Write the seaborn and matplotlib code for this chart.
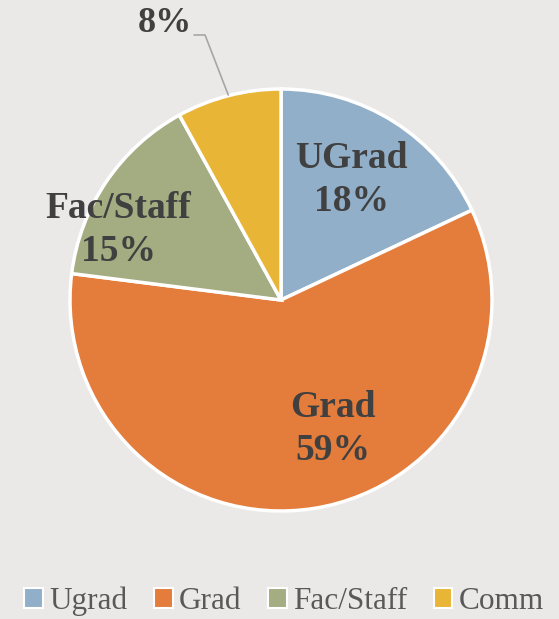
import numpy as np
import matplotlib
matplotlib.use("Agg")
import matplotlib.pyplot as plt
import seaborn as sns
from matplotlib.patches import Patch

categories = ["UGrad", "Grad", "Fac/Staff", "Comm"]
legend_labels = ["Ugrad", "Grad", "Fac/Staff", "Comm"]
values = [18, 59, 15, 8]
colors = ["#91AFC8", "#E47C3B", "#A4AC82", "#E9B536"]

BG = "#EBE8E8"
sns.set_theme(style="white", rc={"figure.facecolor": BG, "axes.facecolor": BG})
plt.rcParams["font.family"] = ["Liberation Serif", "DejaVu Serif"]

fig = plt.figure(figsize=(5.59, 6.19), dpi=100)
W, H = 559, 619
cx, cy, R = 281, 300, 211
ax = fig.add_axes([(cx - R) / W, (H - cy - R) / H, 2 * R / W, 2 * R / H])
ax.set_facecolor(BG)

wedges, _ = ax.pie(values, colors=colors, startangle=90, counterclock=False,
                   radius=1.0, wedgeprops=dict(edgecolor="white", linewidth=2.5))
ax.set_xlim(-1, 1)
ax.set_ylim(-1, 1)
ax.set_aspect("equal")
ax.axis("off")

# label placement (radius fraction, angle deg)
label_pos = [(0.66, 59.7), (0.66, -68.0), (0.84, 156.8)]
txtcol = "#404040"
for i in range(3):
    r, a = label_pos[i]
    ax.text(r * np.cos(np.radians(a)), r * np.sin(np.radians(a)),
            f"{categories[i]}\n{values[i]}%", ha="center", va="center",
            fontsize=27, fontweight="bold", color=txtcol, linespacing=1.3,
            clip_on=False)

# Comm outside label with leader line
w = wedges[3]
mid = np.radians((w.theta1 + w.theta2) / 2)
p0 = (np.cos(mid), np.sin(mid))
ax.plot([p0[0], -0.36, -0.415], [p0[1], 1.256, 1.256], color="#A6A6A6",
        lw=1.2, clip_on=False, solid_capstyle="butt")
ax.text(-0.55, 1.31, f"{values[3]}%", ha="center", va="center", fontsize=26,
        fontweight="bold", color=txtcol, clip_on=False)

handles = [Patch(facecolor=c, edgecolor="white", linewidth=1.5) for c in colors]
leg = fig.legend(handles, legend_labels, loc="center", bbox_to_anchor=(0.508, 1 - 601 / H),
                 ncol=4, frameon=False, fontsize=22.5, handlelength=0.6, handleheight=0.6,
                 handletextpad=0.2, columnspacing=0.85, labelcolor="#595959")

fig.savefig("out.png", dpi=100, facecolor=BG)
